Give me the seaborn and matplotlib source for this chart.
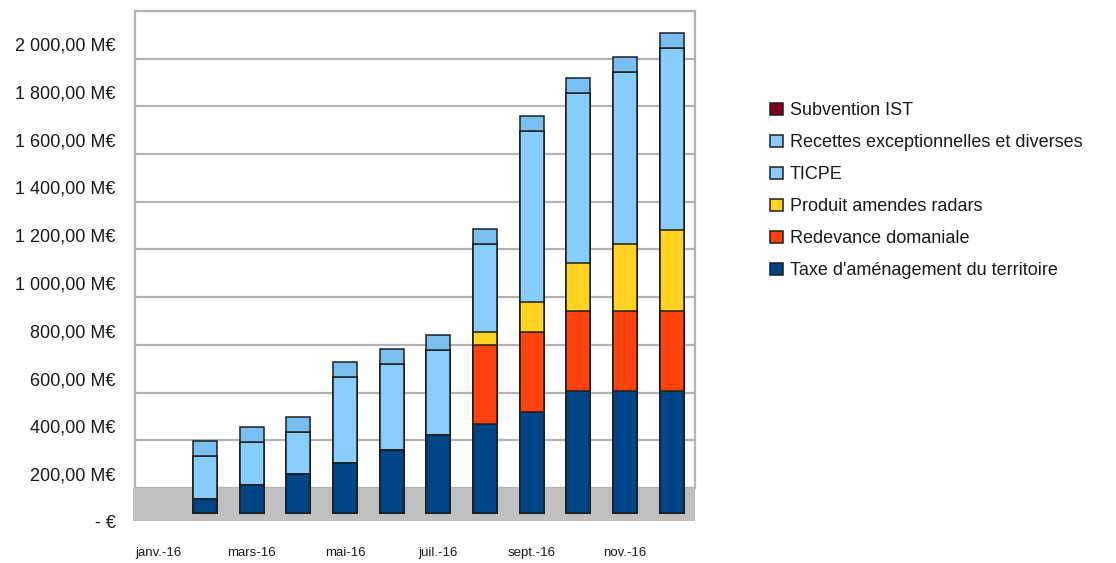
import numpy as np
import pandas as pd
import seaborn as sns
import matplotlib.pyplot as plt
from matplotlib.patches import Patch, Rectangle

# Cumulative monthly receipts, 2016 (M€); January has no entry
mois = ["janv.-16", "févr.-16", "mars-16", "avr.-16", "mai-16", "juin-16",
        "juil.-16", "août-16", "sept.-16", "oct.-16", "nov.-16", "déc.-16"]
taxe_amenagement = [np.nan, 59, 117, 164, 210, 264, 327, 373, 423, 512, 512, 512]
redevance_domaniale = [np.nan, 0, 0, 0, 0, 0, 0, 331, 336, 335, 335, 335]
amendes_radars = [np.nan, 0, 0, 0, 0, 0, 0, 55, 126, 201, 281, 340]
ticpe = [np.nan, 180, 181, 176, 360, 361, 356, 369, 717, 713, 721, 763]
recettes_diverses = [np.nan, 0, 0, 0, 0, 0, 0, 0, 0, 0, 0, 0]
subvention_ist = [np.nan, 0, 0, 0, 0, 0, 0, 0, 0, 0, 0, 0]

y_ticks = list(range(0, 2001, 200))
y_tick_labels = ["- €"] + [f"{v:,.2f} M€".replace(",", " ").replace(".", ",")
                            for v in y_ticks[1:]]

series = [
    ("Taxe d'aménagement du territoire", taxe_amenagement, "#004586"),
    ("Redevance domaniale", redevance_domaniale, "#ff420e"),
    ("Produit amendes radars", amendes_radars, "#ffd320"),
    ("TICPE", ticpe, "#87cdff"),
    ("Recettes exceptionnelles et diverses", recettes_diverses, "#87cdff"),
    ("Subvention IST", subvention_ist, "#7e0021"),
]

df = pd.DataFrame({"mois": mois})
running = np.zeros(len(mois))
cum_cols = []
for name, vals, color in series:
    running = running + np.asarray(vals, dtype=float)
    df[name] = running
    cum_cols.append((name, color))

sns.set_theme(style="white")
plt.rcParams["font.family"] = ["Liberation Sans", "DejaVu Sans"]

W, H = 1116, 563
fig = plt.figure(figsize=(W / 100, H / 100), dpi=100)

def frac(x0, y_top, x1, y_bot):
    return [x0 / W, 1 - y_bot / H, (x1 - x0) / W, (y_bot - y_top) / H]

grid_col = "#b3b3b3"

# back wall with gridlines
wall = fig.add_axes(frac(135, 11, 695, 488), zorder=0)
wall.set_ylim(0, 2000)
wall.set_xlim(0, 1)
wall.set_yticks(y_ticks)
wall.set_yticklabels([])
wall.set_xticks([])
wall.tick_params(length=0)
wall.grid(axis="y", color=grid_col, linewidth=1.6)
for s in wall.spines.values():
    s.set_color(grid_col)
    s.set_linewidth(1.6)
wall.spines["bottom"].set_visible(False)

# floor
fig.add_artist(Rectangle((133 / W, 1 - 521 / H), 562 / W, 33 / H,
                         transform=fig.transFigure, facecolor="#c0c0c0",
                         edgecolor="none", zorder=0.5))

# bars
px_per_unit = 0.2385
base_y = 513
ax = fig.add_axes(frac(135, 11, 695, 521), zorder=1)
ax.patch.set_alpha(0)
for name, color in reversed(cum_cols):
    sns.barplot(data=df, x="mois", y=name, order=mois, color=color,
                saturation=1, width=0.52, edgecolor="#1e1e1e",
                linewidth=1.1, ax=ax, errorbar=None)
ax.set_ylim(-(521 - base_y) / px_per_unit, (base_y - 11) / px_per_unit)
ax.set_xlim(-0.5, len(mois) - 0.5)

# top faces of the columns
totals = df[cum_cols[-1][0]].to_numpy()
depth = 15 / px_per_unit
for i, t in enumerate(totals):
    if np.isfinite(t):
        ax.bar(i, depth, bottom=t, width=0.52, color="#7abff2",
               edgecolor="#1e1e1e", linewidth=1.1)

ax.set_yticks([])
ax.set_ylabel("")
ax.set_xlabel("")
ax.set_xticks(range(len(mois)))
ax.set_xticklabels([m if i % 2 == 0 else "" for i, m in enumerate(mois)],
                   fontsize=9.5, family=["Liberation Sans Narrow", "Liberation Sans"])
ax.tick_params(axis="x", length=0, pad=19, colors="#1a1a1a")
for s in ax.spines.values():
    s.set_visible(False)

# value labels aligned with the front edge
front = fig.add_axes(frac(135, 44, 695, 522), zorder=2)
front.patch.set_alpha(0)
front.set_ylim(0, 2000)
front.set_yticks(y_ticks)
front.set_yticklabels(y_tick_labels, fontsize=13, color="#1a1a1a")
front.set_xticks([])
front.tick_params(axis="y", length=0, pad=14)
for s in front.spines.values():
    s.set_visible(False)

handles = [Patch(facecolor=c, edgecolor="#1e1e1e", linewidth=1.1, label=n)
           for n, _, c in reversed(series)]
fig.legend(handles=handles, loc="upper left",
           bbox_to_anchor=(763 / W, 1 - 95 / H), frameon=False,
           fontsize=13, handlelength=0.68, handleheight=0.68,
           handletextpad=0.4, labelspacing=0.83, borderaxespad=0,
           labelcolor="#1a1a1a")

fig.savefig("out.png", dpi=100)
